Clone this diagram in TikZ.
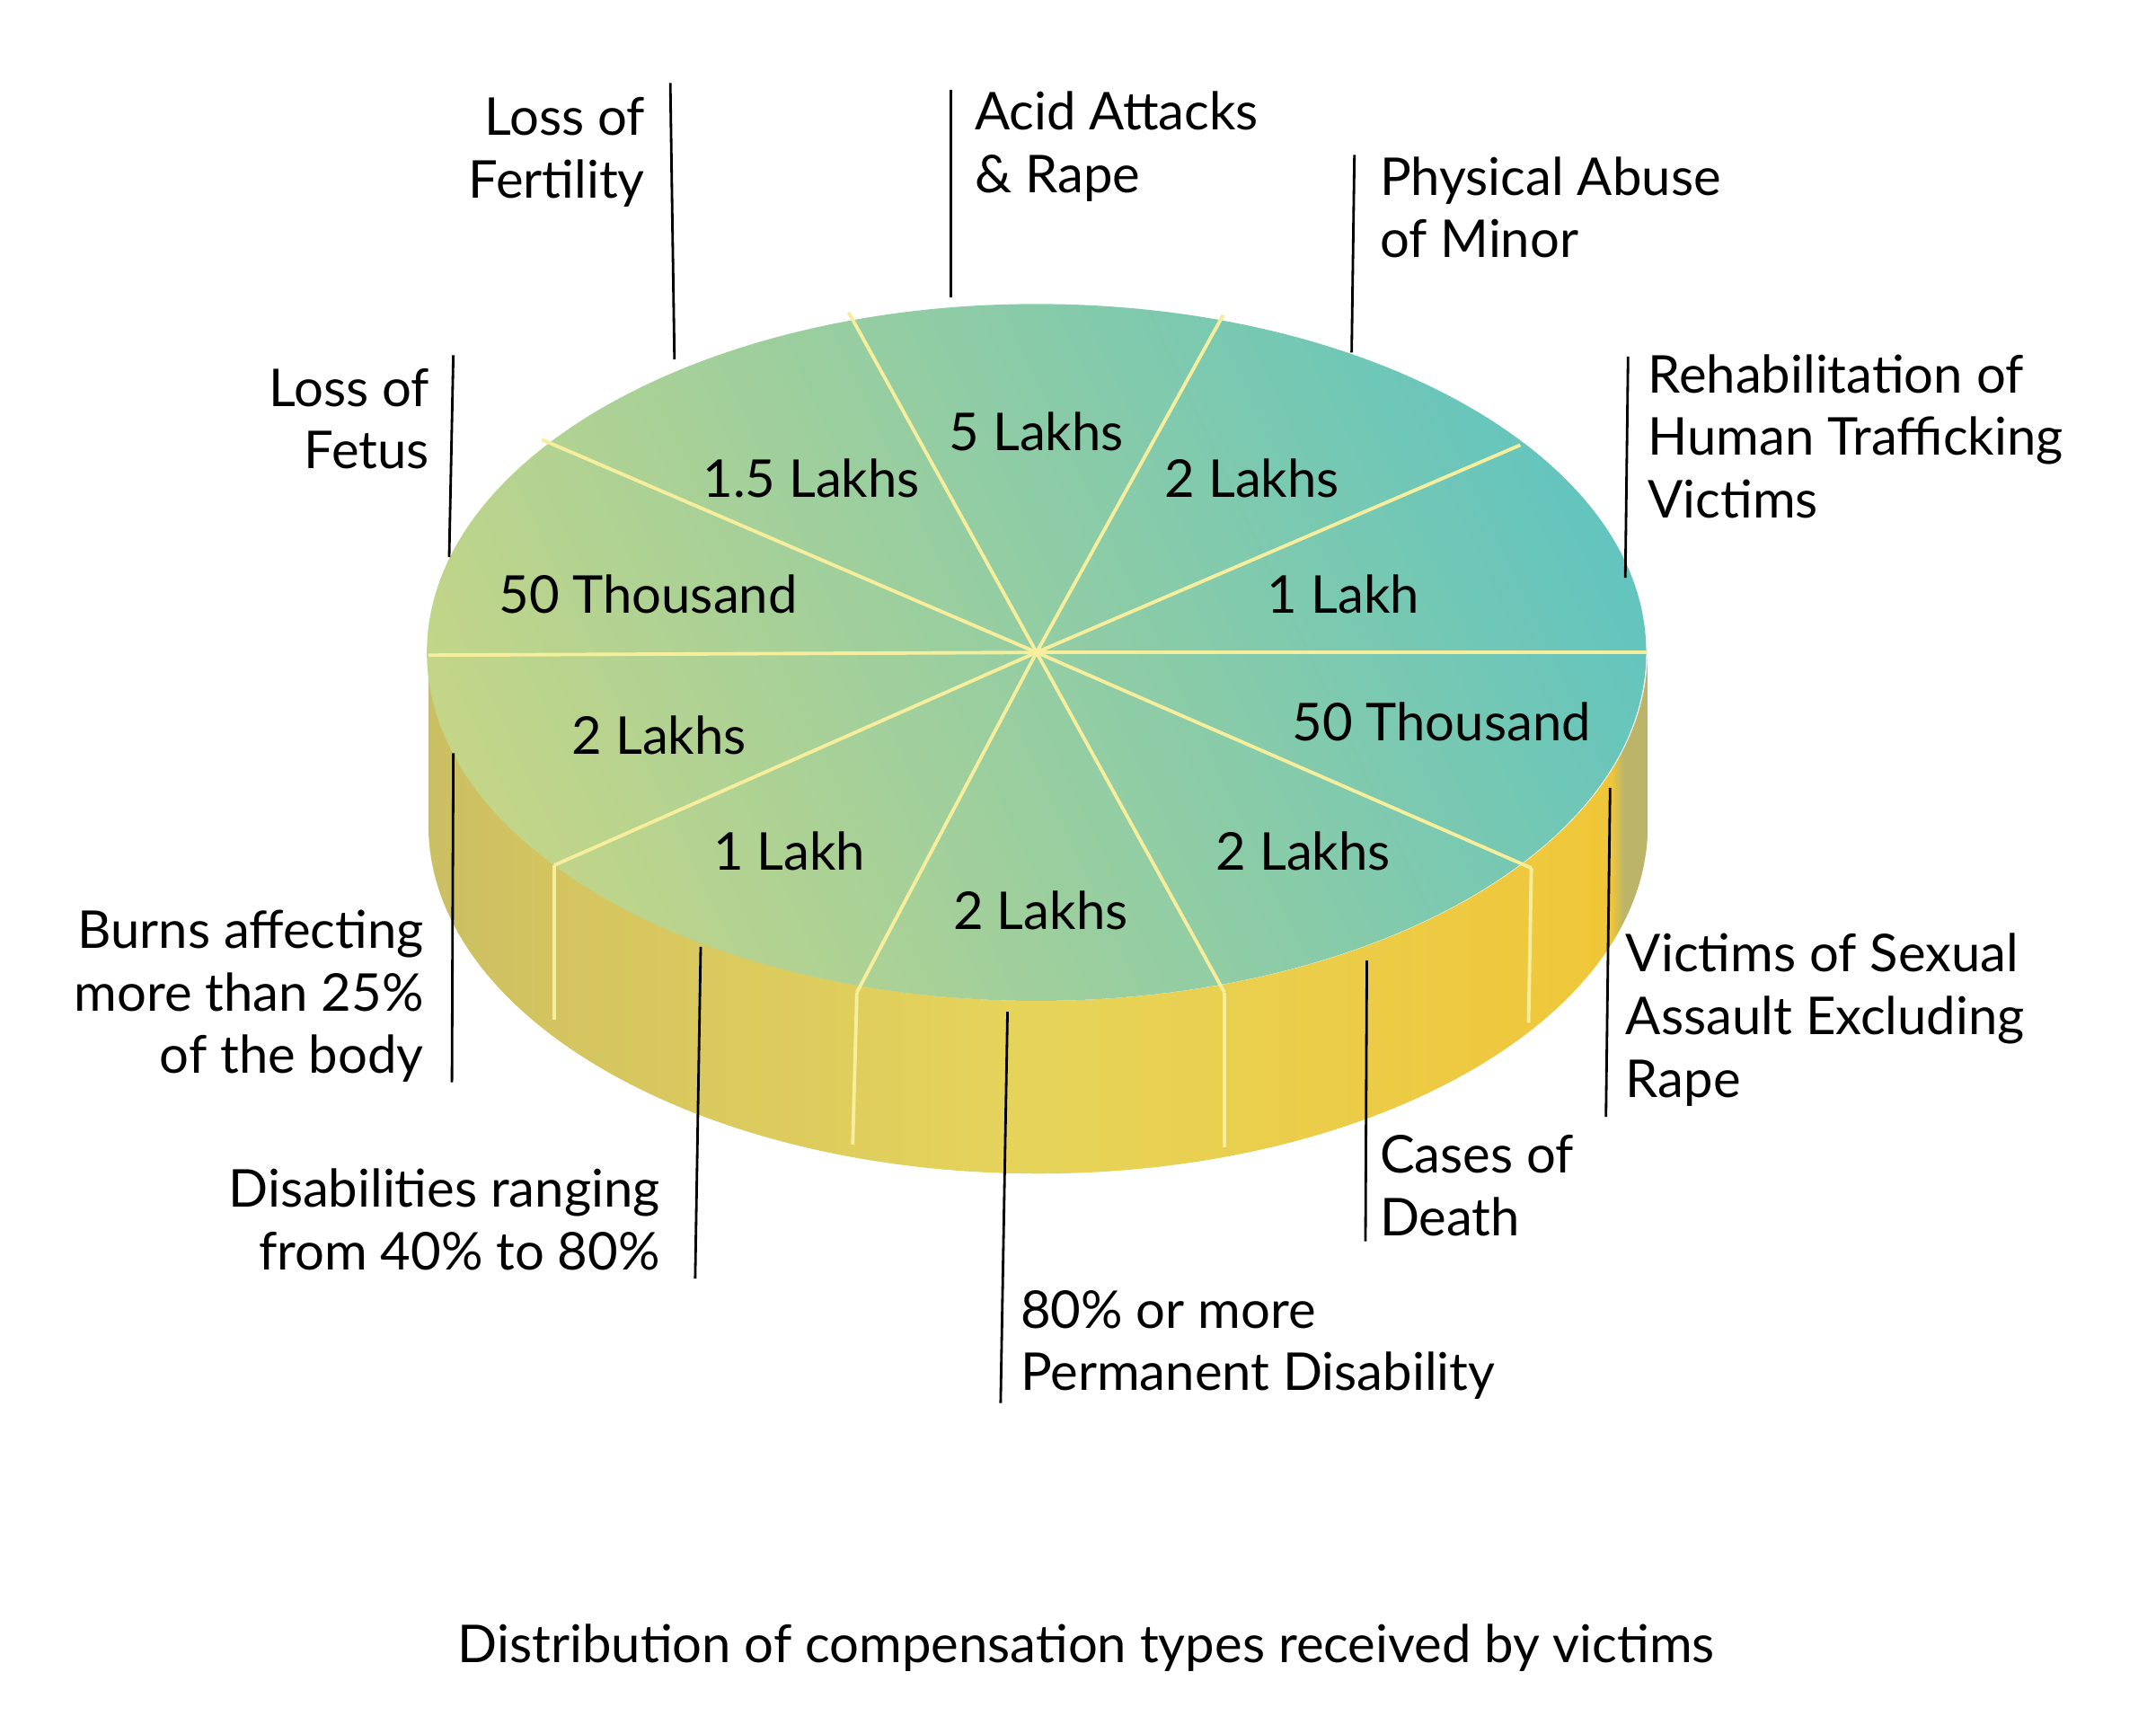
\documentclass[tikz,border=0pt]{standalone}
\usepackage{fontspec}
\setmainfont{Lato}
\definecolor{topL}{HTML}{C8D685}
\definecolor{topR}{HTML}{5FC4C0}
\definecolor{sepc}{HTML}{F6EE9C}
\definecolor{s0}{HTML}{B8A84A}
\definecolor{s1}{HTML}{E8BC30}
\definecolor{s2}{HTML}{A8AC72}
\definecolor{s3}{HTML}{D4C460}
\definecolor{s4}{HTML}{E6D45A}
\definecolor{s5}{HTML}{F0C638}
\definecolor{s6}{HTML}{BCB468}
\definecolor{s7}{HTML}{7A7448}
\begin{document}
\pgfdeclarehorizontalshading{sideshade}{100bp}{
 color(0bp)=(s0); color(4bp)=(s1); color(6.2bp)=(s1);
 color(6.4bp)=(s2); color(30bp)=(s3); color(50bp)=(s4);
 color(73.5bp)=(s5); color(74bp)=(s6); color(92bp)=(s6); color(100bp)=(s7)}
\begin{tikzpicture}[x=0.015385cm, y=-0.015385cm,
 lbl/.style={font=\fontsize{16.5}{19.8}\selectfont, align=left, anchor=north west, inner sep=0},
 lbr/.style={font=\fontsize{16.5}{19.8}\selectfont, align=right, anchor=north east, inner sep=0},
 val/.style={font=\fontsize{16.5}{19.8}\selectfont, inner sep=0},
 sep/.style={draw=sepc, line width=1.1pt},
 lead/.style={draw=black, line width=0.8pt}]
\useasboundingbox (0,0) rectangle (1560,1248);
\fill[white] (0,0) rectangle (1560,1248);
% side
\shade[shading=sideshade] (310,472) -- (310,597) arc[start angle=180,end angle=360,x radius=6.785cm,y radius=3.877cm] -- (1192,472) arc[start angle=360,end angle=180,x radius=6.785cm,y radius=3.877cm] -- cycle;
% top
\begin{scope}
\clip (750,472) ellipse[x radius=6.785cm,y radius=3.877cm];
\shade[left color=topL, right color=topR, shading angle=115] (250,150) rectangle (1250,800);
\end{scope}
\coordinate (c) at (750,472);
\foreach \p in {(614,226),(885,228),(1100,322),(1192,472),(1108,628),(886,718),(620,718),(401,626),(310,474),(392,318)}
 \draw[sep] (c) -- \p;
\draw[sep] (401,626) -- (401,738);
\draw[sep] (620,718) -- (617,828);
\draw[sep] (886,718) -- (886,830);
\draw[sep] (1108,628) -- (1106,740);
% values
\node[val] at (587,346) {1.5 Lakhs};
\node[val] at (750,312) {5 Lakhs};
\node[val] at (906,346) {2 Lakhs};
\node[val] at (972,430) {1 Lakh};
\node[val] at (1043,522) {50 Thousand};
\node[val] at (943,616) {2 Lakhs};
\node[val] at (753,659) {2 Lakhs};
\node[val] at (571,616) {1 Lakh};
\node[val] at (477,532) {2 Lakhs};
\node[val] at (469,430) {50 Thousand};
% leaders
\coordinate (a1) at (488,260); \coordinate (b1) at (485,60); \draw[lead] (a1)--(b1);
\coordinate (a2) at (688,215); \coordinate (b2) at (688,65); \draw[lead] (a2)--(b2);
\coordinate (a3) at (978,255); \coordinate (b3) at (980,112); \draw[lead] (a3)--(b3);
\coordinate (a4) at (1176,418); \coordinate (b4) at (1178,258); \draw[lead] (a4)--(b4);
\coordinate (a5) at (325,403); \coordinate (b5) at (328,257); \draw[lead] (a5)--(b5);
\coordinate (a6) at (328,545); \coordinate (b6) at (327,783); \draw[lead] (a6)--(b6);
\coordinate (a7) at (507,685); \coordinate (b7) at (503,925); \draw[lead] (a7)--(b7);
\coordinate (a8) at (729,732); \coordinate (b8) at (724,1015); \draw[lead] (a8)--(b8);
\coordinate (a9) at (989,695); \coordinate (b9) at (988,898); \draw[lead] (a9)--(b9);
\coordinate (a10) at (1165,570); \coordinate (b10) at (1162,808); \draw[lead] (a10)--(b10);
% labels
\node[lbr] (t1) at (467,70) {Loss of\\Fertility};
\node[lbl] (t2) at (705,66) {Acid Attacks\\\& Rape};
\node[lbl] (t3) at (998,113) {Physical Abuse\\of Minor};
\node[lbl] (t4) at (1192,256) {Rehabilitation of\\Human Trafficking\\Victims};
\node[lbr] (t5) at (311,266) {Loss of\\Fetus};
\node[lbr] (t6) at (307,658) {Burns affecting\\more than 25\%\\of the body};
\node[lbr] (t7) at (478,845) {Disabilities ranging\\from 40\% to 80\%};
\node[lbl] (t8) at (738,933) {80\% or more\\Permanent Disability};
\node[lbl] (t9) at (998,821) {Cases of\\Death};
\node[lbl] (t10) at (1176,675) {Victims of Sexual\\Assault Excluding\\Rape};
\node[val] (cap) at (786,1192) {Distribution of compensation types received by victims};
\end{tikzpicture}
\end{document}
